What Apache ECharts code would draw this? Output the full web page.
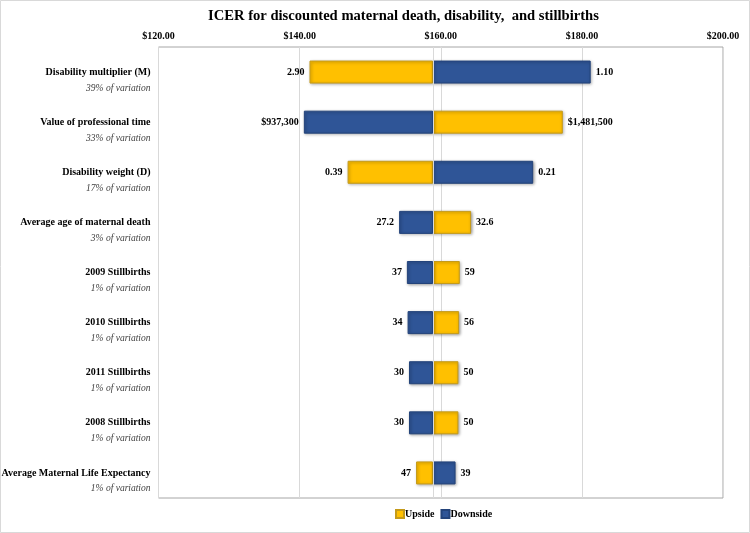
<!DOCTYPE html>
<html><head><meta charset="utf-8">
<script src="https://cdn.jsdelivr.net/npm/echarts@6/dist/echarts.min.js"></script>
<style>html,body{margin:0;padding:0;background:#fff}#c{width:750px;height:533px}</style>
</head><body><div id="c"></div>
<script>
const categories = ['Disability multiplier (M)', 'Value of professional time', 'Disability weight (D)', 'Average age of maternal death', '2009 Stillbirths', '2010 Stillbirths', '2011 Stillbirths', '2008 Stillbirths', 'Average Maternal Life Expectancy'];
const variation = ['39% of variation', '33% of variation', '17% of variation', '3% of variation', '1% of variation', '1% of variation', '1% of variation', '1% of variation', '1% of variation'];
const baseValue = 158.9;
const upsideValues = [141.4, 177.3, 146.8, 164.3, 162.7, 162.6, 162.5, 162.5, 156.5];
const upsideLabels = ['2.90', '$1,481,500', '0.39', '32.6', '59', '56', '50', '50', '47'];
const downsideValues = [181.25, 140.6, 173.1, 154.1, 155.2, 155.3, 155.5, 155.5, 162.1];
const downsideLabels = ['1.10', '$937,300', '0.21', '27.2', '37', '34', '30', '30', '39'];
const axisMin = 120, axisMax = 200, axisStep = 20;

const SERIF = '"Liberation Serif", "Times New Roman", serif';
const YELLOW = '#FFC000', BLUE = '#2F5597';

function segs(values, labels) {
  return values.map((v, i) => ({
    value: Math.abs(v - baseValue),
    label: { show: true, position: v < baseValue ? 'left' : 'right', formatter: labels[i], distance: 5 }
  }));
}
function offsets(values) { return values.map(v => Math.min(v, baseValue)); }

const labelStyle = { color: '#000', fontFamily: SERIF, fontWeight: 'bold', fontSize: 10 };
const barBase = { type: 'bar', barWidth: 23 };
const shadow = { shadowBlur: 3, shadowColor: 'rgba(0,0,0,0.35)', shadowOffsetX: 1, shadowOffsetY: 1, borderWidth: 1 };

const chart = echarts.init(document.getElementById('c'));
chart.setOption({
  animation: false,
  backgroundColor: '#fff',
  title: {
    text: 'ICER for discounted maternal death, disability,  and stillbirths',
    left: 203, top: 4,
    textStyle: { fontFamily: SERIF, fontWeight: 'bold', fontSize: 14.6, color: '#000' }
  },
  graphic: [{ type: 'rect', shape: { x: 0.5, y: 0.5, width: 749, height: 532 }, style: { fill: 'none', stroke: '#d9d9d9', lineWidth: 1 }, silent: true }],
  legend: {
    data: ['Upside', 'Downside'], left: 395, top: 509, padding: 0,
    icon: 'rect', itemWidth: 8, itemHeight: 8, itemGap: 6,
    textStyle: { fontFamily: SERIF, fontWeight: 'bold', fontSize: 10, color: '#000', padding: [0, 0, 0, -4] }
  },
  grid: { left: 158.5, right: 27, top: 47, bottom: 35, show: true, borderColor: '#a6a6a6', borderWidth: 1, containLabel: false, outerBoundsMode: 'none' },
  xAxis: {
    type: 'value', position: 'top', min: axisMin, max: axisMax, interval: axisStep,
    axisLine: { show: false }, axisTick: { show: false },
    splitLine: { show: true, lineStyle: { color: '#d9d9d9', width: 1 } },
    axisLabel: { formatter: v => '$' + v.toFixed(2), fontFamily: SERIF, fontWeight: 'bold', fontSize: 10, color: '#000', margin: 6 }
  },
  yAxis: {
    type: 'category', data: categories, inverse: true,
    axisLine: { show: false }, axisTick: { show: false },
    axisLabel: {
      margin: 8,
      formatter: (v, i) => '{e| }\n{a|' + v + '}\n{b|' + variation[i] + '}',
      rich: {
        e: { fontSize: 10, lineHeight: 16 },
        a: { fontFamily: SERIF, fontWeight: 'bold', fontSize: 10, color: '#000', lineHeight: 16, align: 'right' },
        b: { fontFamily: SERIF, fontStyle: 'italic', fontSize: 9.5, color: '#404040', lineHeight: 16, align: 'right' }
      }
    }
  },
  series: [
    Object.assign({}, barBase, {
      name: 'upOffset', stack: 'up', data: offsets(upsideValues), silent: true, z: 1,
      itemStyle: { color: 'rgba(0,0,0,0)' },
      markLine: { silent: true, symbol: 'none', label: { show: false }, lineStyle: { color: '#d9d9d9', width: 1, type: 'solid' }, data: [{ xAxis: baseValue }] }
    }),
    Object.assign({}, barBase, {
      name: 'Upside', stack: 'up', data: segs(upsideValues, upsideLabels), z: 3,
      itemStyle: Object.assign({ color: YELLOW, borderColor: '#C49A1A' }, shadow),
      label: labelStyle
    }),
    Object.assign({}, barBase, {
      name: 'downOffset', stack: 'down', data: offsets(downsideValues), silent: true, z: 1, barGap: '-100%',
      itemStyle: { color: 'rgba(0,0,0,0)' }
    }),
    Object.assign({}, barBase, {
      name: 'Downside', stack: 'down', data: segs(downsideValues, downsideLabels), z: 3, barGap: '-100%',
      itemStyle: Object.assign({ color: BLUE, borderColor: '#23437A' }, shadow),
      label: labelStyle
    })
  ]
});
</script></body></html>
